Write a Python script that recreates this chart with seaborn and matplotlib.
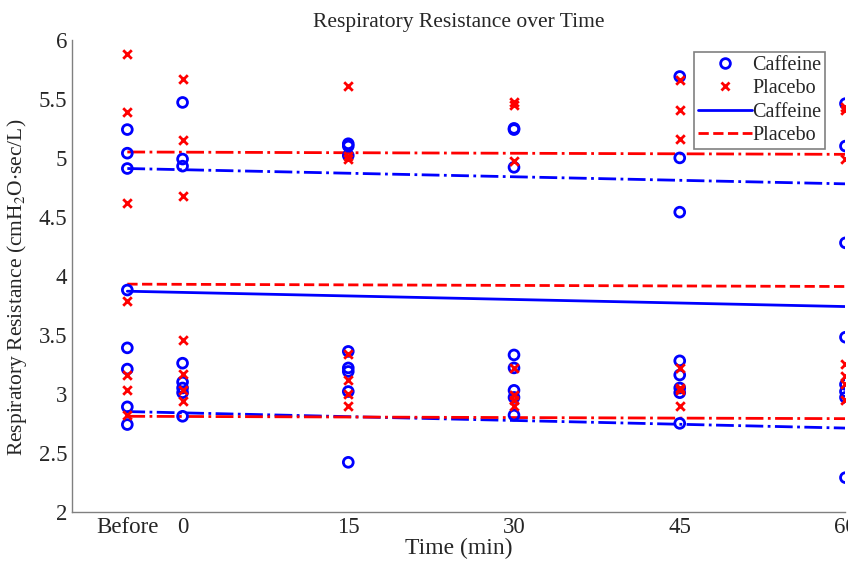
import pandas as pd
import matplotlib
matplotlib.use('Agg')
import matplotlib.pyplot as plt
import seaborn as sns
from matplotlib.lines import Line2D

# Tempos de medida (Before = -5 min)
tempos = [-5, 0, 15, 30, 45, 60]
rotulos_x = ['Before', '0', '15', '30', '45', '60']

# Valores (cmH2O·sec/L)
cafeina = {
    -5: [5.24, 5.04, 4.91, 3.88, 3.39, 3.21, 2.89, 2.74],
    0: [5.47, 4.99, 4.93, 3.26, 3.10, 3.05, 3.01, 2.81],
    15: [5.12, 5.10, 5.02, 3.36, 3.22, 3.19, 3.02, 2.42],
    30: [5.25, 5.24, 4.92, 3.33, 3.22, 3.03, 2.97, 2.82],
    45: [5.69, 5.00, 4.54, 3.28, 3.16, 3.05, 3.01, 2.75],
    60: [5.46, 5.10, 4.28, 3.48, 3.08, 3.02, 2.97, 2.29],
}
placebo = {
    -5: [5.88, 5.39, 4.62, 3.79, 3.16, 3.03, 2.82],
    0: [5.67, 5.15, 4.68, 3.46, 3.17, 3.03, 2.94],
    15: [5.61, 5.02, 4.99, 3.34, 3.12, 3.00, 2.90],
    30: [5.47, 5.45, 4.97, 3.22, 2.99, 2.95, 2.90],
    45: [5.66, 5.41, 5.16, 3.22, 3.05, 3.03, 2.90],
    60: [5.43, 5.41, 4.99, 3.25, 3.15, 3.08, 2.95],
}

# Retas ajustadas (valor em Before e em 60 min)
x_reta = [-5, 60]
caf_media = [3.87, 3.74]
caf_sup = [4.91, 4.78]
caf_inf = [2.85, 2.71]
pla_media = [3.93, 3.91]
pla_sup = [5.05, 5.03]
pla_inf = [2.81, 2.79]

def para_df(d):
    linhas = []
    for t, vals in d.items():
        for v in vals:
            linhas.append({'tempo': t, 'valor': v})
    return pd.DataFrame(linhas)

df_caf = para_df(cafeina)
df_pla = para_df(placebo)

sns.set_style('white')
plt.rcParams['font.family'] = ['Liberation Serif', 'DejaVu Serif']
plt.rcParams['mathtext.fontset'] = 'stix'

fig = plt.figure(figsize=(8.48, 5.70), dpi=100)
ax = fig.add_axes([0.085, 0.102, 0.912, 0.828])

azul = '#0000ff'
vermelho = '#ff0000'

# Retas
sns.lineplot(x=x_reta, y=caf_sup, color=azul, linestyle='-.', linewidth=2, ax=ax)
sns.lineplot(x=x_reta, y=caf_inf, color=azul, linestyle='-.', linewidth=2, ax=ax)
sns.lineplot(x=x_reta, y=pla_sup, color=vermelho, linestyle='-.', linewidth=2, ax=ax)
sns.lineplot(x=x_reta, y=pla_inf, color=vermelho, linestyle='-.', linewidth=2, ax=ax)
sns.lineplot(x=x_reta, y=caf_media, color=azul, linestyle='-', linewidth=2, ax=ax)
sns.lineplot(x=x_reta, y=pla_media, color=vermelho, linestyle='--', linewidth=2, ax=ax)

# Pontos
sns.scatterplot(data=df_caf, x='tempo', y='valor', marker='o', s=50,
                color=azul, linewidth=2, ax=ax, zorder=3)
ax.collections[-1].set_facecolor('none')
ax.collections[-1].set_edgecolor(azul)
sns.scatterplot(data=df_pla, x='tempo', y='valor', marker='x', s=38,
                color=vermelho, linewidth=2, ax=ax, zorder=3)

ax.set_xlim(-10, 60)
ax.set_ylim(2, 6)
ax.set_xticks(tempos)
ax.set_xticklabels(rotulos_x)
ax.set_yticks([2, 2.5, 3, 3.5, 4, 4.5, 5, 5.5, 6])
ax.set_yticklabels(['2', '2.5', '3', '3.5', '4', '4.5', '5', '5.5', '6'])
ax.tick_params(direction='in', length=5, labelsize=16.5, color='#808080')

for lado in ['top', 'right']:
    ax.spines[lado].set_visible(False)
for lado in ['left', 'bottom']:
    ax.spines[lado].set_color('#808080')
    ax.spines[lado].set_linewidth(1)

ax.set_title('Respiratory Resistance over Time', fontsize=15.5, pad=9)
ax.set_xlabel('Time (min)', fontsize=17, labelpad=0)
ax.set_ylabel('Respiratory Resistance (cmH$_2$O$\\cdot$sec/L)', fontsize=15.5)
ax.yaxis.set_label_coords(-0.056, 0.475)

handles = [
    Line2D([], [], marker='o', linestyle='none', markerfacecolor='none',
           markeredgecolor=azul, markeredgewidth=2, markersize=7),
    Line2D([], [], marker='x', linestyle='none', color=vermelho,
           markeredgewidth=2, markersize=6),
    Line2D([], [], color=azul, linestyle='-', linewidth=2),
    Line2D([], [], color=vermelho, linestyle='--', linewidth=2),
]
leg = ax.legend(handles, ['Caffeine', 'Placebo', 'Caffeine', 'Placebo'],
                loc='upper right', bbox_to_anchor=(0.974, 0.975), borderaxespad=0,
                fontsize=14.5, frameon=True, fancybox=False, handlelength=2.7,
                handletextpad=0.0, borderpad=0.2, labelspacing=0.22,
                framealpha=1)
leg.get_frame().set_edgecolor('#808080')
leg.get_frame().set_linewidth(1.2)
leg.set_zorder(10)

plt.savefig('out.png', dpi=100)
